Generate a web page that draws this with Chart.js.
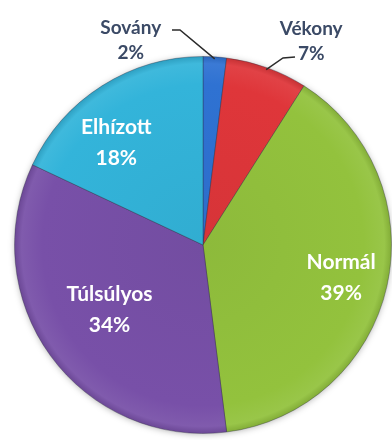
<!DOCTYPE html>
<html lang="hu">
<head>
<meta charset="utf-8">
<title>Testsúly megoszlás</title>
<script src="https://cdn.jsdelivr.net/npm/chart.js@4/dist/chart.umd.min.js"></script>
<style>
  html, body { margin: 0; padding: 0; background: #ffffff; }
  #wrap { width: 392px; height: 440px; position: relative; }
</style>
</head>
<body>
<div id="wrap"><canvas id="bmiPie"></canvas></div>
<script>
// Kategóriák és arányok (%)
const categories = ['Sovány', 'Vékony', 'Normál', 'Túlsúlyos', 'Elhízott'];
const shares = [2, 7, 39, 34, 18];
const sliceColors = ['#2f72d2', '#df363a', '#93c23d', '#7850a8', '#33b4da'];

// Label placement: inside labels at a fraction of the radius (plus a small nudge),
// the two thin slices get a callout outside the pie.
const insideFrac = [null, null, 0.74, 0.6, 0.7];
const insideNudge = [null, null, [2, 2], [-2, -2], [-16, 9]];
const callouts = {
    0: { text: [-84, -19], elbow: [180, 30], end: [172, 30] },
    1: { text: [45, -29], elbow: [283, 58], end: [295, 57] }
};

function shade(hex, f) {
    const n = parseInt(hex.slice(1), 16);
    let r = (n >> 16) & 255, g = (n >> 8) & 255, b = n & 255;
    r = Math.round(f < 0 ? r * (1 + f) : r + (255 - r) * f);
    g = Math.round(f < 0 ? g * (1 + f) : g + (255 - g) * f);
    b = Math.round(f < 0 ? b * (1 + f) : b + (255 - b) * f);
    return `rgb(${r},${g},${b})`;
}

// soft shadow disc underneath the slices
const pieShadow = {
    id: 'pieShadow',
    beforeDatasetsDraw(chart) {
        const arc = chart.getDatasetMeta(0).data[0];
        if (!arc) return;
        const ctx = chart.ctx;
        ctx.save();
        ctx.shadowColor = 'rgba(0,0,0,0.35)';
        ctx.shadowBlur = 7;
        ctx.shadowOffsetY = 1;
        ctx.fillStyle = '#888';
        ctx.beginPath();
        ctx.arc(arc.x, arc.y, arc.outerRadius - 1, 0, Math.PI * 2);
        ctx.fill();
        ctx.restore();
    }
};

const sliceLabels = {
    id: 'sliceLabels',
    afterDatasetsDraw(chart) {
        const ctx = chart.ctx;
        const arcs = chart.getDatasetMeta(0).data;
        ctx.save();
        ctx.textAlign = 'center';
        ctx.textBaseline = 'middle';
        arcs.forEach((arc, i) => {
            const mid = (arc.startAngle + arc.endAngle) / 2;
            const lines = [categories[i], shares[i] + '%'];
            if (insideFrac[i] !== null) {
                const r = arc.outerRadius * insideFrac[i];
                const x = arc.x + Math.cos(mid) * r + insideNudge[i][0];
                const y = arc.y + Math.sin(mid) * r + insideNudge[i][1];
                ctx.fillStyle = '#ffffff';
                ctx.font = 'bold 21px Lato';
                ctx.fillText(lines[0], x, y - 15);
                ctx.fillText(lines[1], x, y + 16);
            } else {
                const c = callouts[i];
                const ex = arc.x + Math.cos(mid) * (arc.outerRadius - 2);
                const ey = arc.y + Math.sin(mid) * (arc.outerRadius - 2);
                ctx.strokeStyle = '#2b2b2b';
                ctx.lineWidth = 1.5;
                ctx.beginPath();
                ctx.moveTo(ex, ey);
                ctx.lineTo(c.elbow[0], c.elbow[1]);
                ctx.lineTo(c.end[0], c.end[1]);
                ctx.stroke();
                const tx = ex + c.text[0];
                const ty = ey + c.text[1];
                ctx.fillStyle = '#3b4a66';
                ctx.font = 'bold 19px Lato';
                ctx.fillText(lines[0], tx, ty - 12);
                ctx.fillText(lines[1], tx, ty + 13);
            }
        });
        ctx.restore();
    }
};

new Chart(document.getElementById('bmiPie').getContext('2d'), {
    type: 'pie',
    data: {
        labels: categories,
        datasets: [{
            data: shares,
            backgroundColor: function(context) {
                const chart = context.chart;
                const area = chart.chartArea;
                const base = sliceColors[context.dataIndex];
                if (!area) return base;
                const cx = (area.left + area.right) / 2;
                const cy = (area.top + area.bottom) / 2;
                const r = Math.min(area.right - area.left, area.bottom - area.top) / 2;
                const g = chart.ctx.createRadialGradient(cx, cy, 0, cx, cy, r);
                g.addColorStop(0, shade(base, -0.04));
                g.addColorStop(0.85, base);
                g.addColorStop(0.96, shade(base, 0.06));
                g.addColorStop(1, shade(base, -0.12));
                return g;
            },
            borderColor: 'rgba(40,40,60,0.35)',
            borderWidth: 1
        }]
    },
    options: {
        responsive: true,
        maintainAspectRatio: false,
        animation: false,
        layout: { padding: { left: 14, right: 0, top: 56, bottom: 6 } },
        plugins: {
            legend: { display: false },
            tooltip: { enabled: false }
        }
    },
    plugins: [pieShadow, sliceLabels]
});
</script>
</body>
</html>
